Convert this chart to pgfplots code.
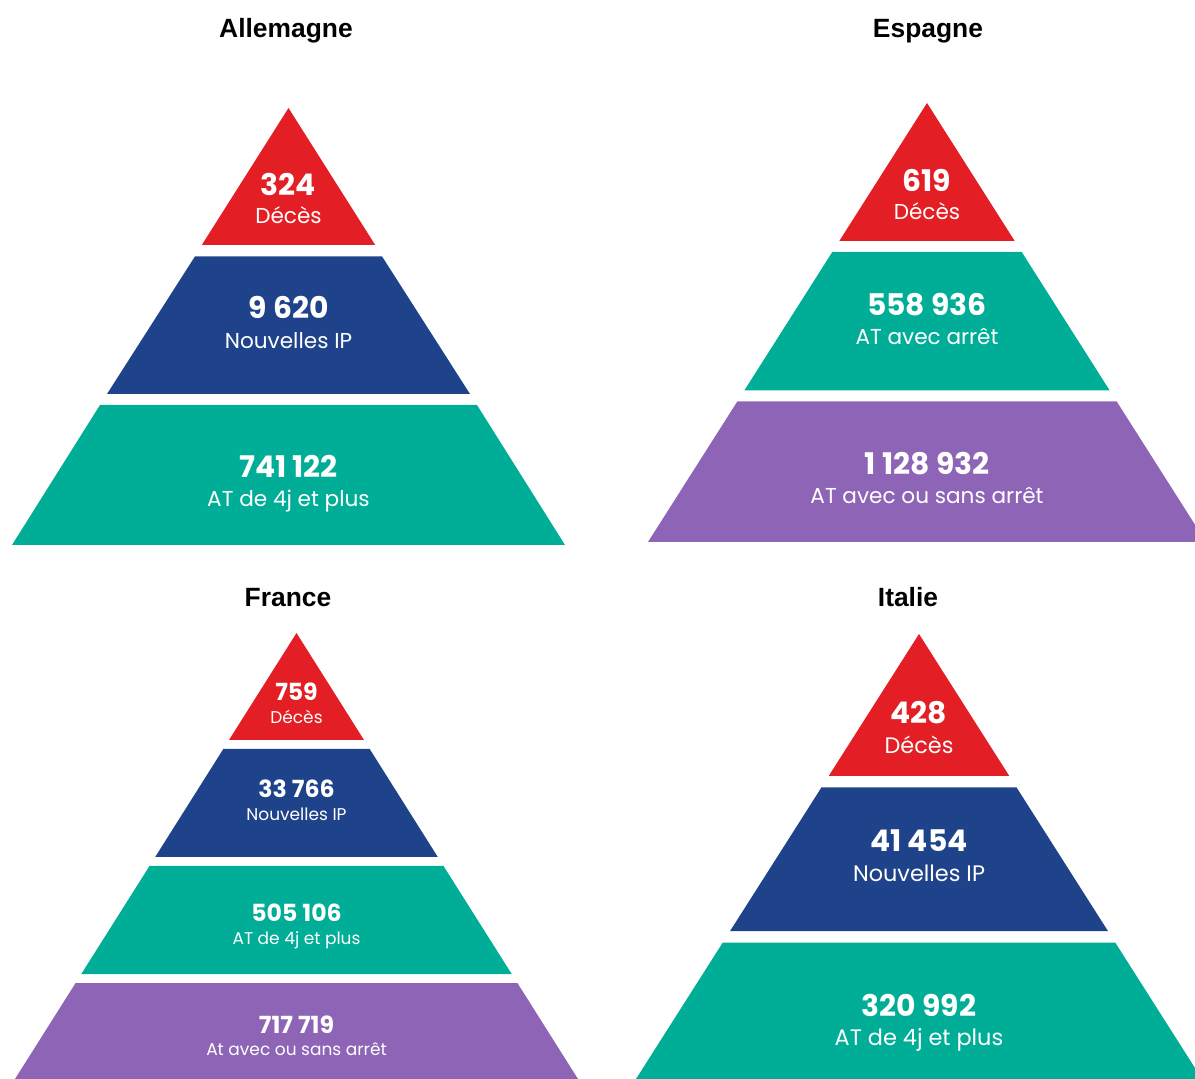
\documentclass[border=0pt]{standalone}
\usepackage{pgfplots}
\pgfplotsset{compat=1.18}
\usepackage{fontspec}
\setmainfont{Poppins}
\newfontfamily\titlefont{Liberation Sans}
\definecolor{cRed}{RGB}{227,30,36}
\definecolor{cBlue}{RGB}{31,67,138}
\definecolor{cTeal}{RGB}{0,174,151}
\definecolor{cPurple}{RGB}{142,101,182}
% value label: position, text, size
\newcommand{\pnum}[3]{\node[anchor=base, text=white, inner sep=0pt, font=\fontsize{#3}{#3}\selectfont\bfseries] at (axis cs:#1) {#2};}
\newcommand{\plab}[3]{\node[anchor=base, text=white, inner sep=0pt, font=\fontsize{#3}{#3}\selectfont] at (axis cs:#1) {#2};}
\newcommand{\ptitle}[2]{\node[anchor=base, text=black, inner sep=0pt, font=\fontsize{13.2}{13.2}\selectfont\titlefont\bfseries] at (axis cs:#1) {#2};}
\begin{document}
\begin{tikzpicture}
\path[use as bounding box] (0,0) rectangle (597.5pt,539.5pt);
\begin{axis}[
  at={(0,0)}, anchor=south west,
  scale only axis, width=597.5pt, height=539.5pt,
  xmin=0, xmax=1195, ymin=0, ymax=1079, y dir=reverse,
  hide axis, clip=true,
]
% ---------------- Allemagne ----------------
\addplot[fill=cRed, draw=none] coordinates {(288.5,108) (375.2,245) (201.8,245)} -- cycle;
\addplot[fill=cBlue, draw=none] coordinates {(194.9,256.5) (382.1,256.5) (470,394) (107,394)} -- cycle;
\addplot[fill=cTeal, draw=none] coordinates {(100,405) (477,405) (565,545) (12,545)} -- cycle;
% ---------------- Espagne ----------------
\addplot[fill=cRed, draw=none] coordinates {(927,103) (1014.7,241) (839.3,241)} -- cycle;
\addplot[fill=cTeal, draw=none] coordinates {(832.3,252) (1021.7,252) (1109.7,390.5) (744.3,390.5)} -- cycle;
\addplot[fill=cPurple, draw=none] coordinates {(737.3,401.5) (1116.7,401.5) (1206,542) (648,542)} -- cycle;
% ---------------- France ----------------
\addplot[fill=cRed, draw=none] coordinates {(296.5,633) (364,740) (229,740)} -- cycle;
\addplot[fill=cBlue, draw=none] coordinates {(223.3,749) (369.7,749) (437.8,857) (155.2,857)} -- cycle;
\addplot[fill=cTeal, draw=none] coordinates {(149.5,866) (443.5,866) (511.7,974) (81.3,974)} -- cycle;
\addplot[fill=cPurple, draw=none] coordinates {(75.6,983) (517.4,983) (578,1079) (15,1079)} -- cycle;
% ---------------- Italie ----------------
\addplot[fill=cRed, draw=none] coordinates {(919,634) (1009.3,776) (828.7,776)} -- cycle;
\addplot[fill=cBlue, draw=none] coordinates {(821.4,787.5) (1016.6,787.5) (1107.9,931) (730.1,931)} -- cycle;
\addplot[fill=cTeal, draw=none] coordinates {(722.8,942.5) (1115.2,942.5) (1202,1079) (636,1079)} -- cycle;

% titles
\ptitle{286,38}{Allemagne}
\ptitle{928,38}{Espagne}
\ptitle{288,607}{France}
\ptitle{908,607}{Italie}
% Allemagne labels
\pnum{288.5,196}{324}{14.9}
\plab{288.5,223.5}{Décès}{10.8}
\pnum{288.5,319}{9 620}{14.9}
\plab{288.5,348.5}{Nouvelles IP}{10.8}
\pnum{288.5,478}{741 122}{14.9}
\plab{288.5,506.5}{AT de 4j et plus}{10.8}
% Espagne labels
\pnum{927,192}{619}{14.9}
\plab{927,219.5}{Décès}{10.8}
\pnum{927,316}{558 936}{14.9}
\plab{927,344.5}{AT avec arrêt}{10.8}
\pnum{927,475}{1 128 932}{14.9}
\plab{927,503.5}{AT avec ou sans arrêt}{10.8}
% France labels
\pnum{296.5,701}{759}{11.8}
\plab{296.5,724}{Décès}{8.5}
\pnum{296.5,798}{33 766}{11.8}
\plab{296.5,820}{Nouvelles IP}{8.5}
\pnum{296.5,921}{505 106}{11.8}
\plab{296.5,944}{AT de 4j et plus}{8.5}
\pnum{296.5,1033}{717 719}{11.8}
\plab{296.5,1055}{At avec ou sans arrêt}{8.5}
% Italie labels
\pnum{919,724}{428}{14.9}
\plab{919,753.5}{Décès}{11.2}
\pnum{919,852}{41 454}{14.9}
\plab{919,881.5}{Nouvelles IP}{11.2}
\pnum{919,1016}{320 992}{14.9}
\plab{919,1045.5}{AT de 4j et plus}{11.2}
\end{axis}
\end{tikzpicture}
\end{document}
